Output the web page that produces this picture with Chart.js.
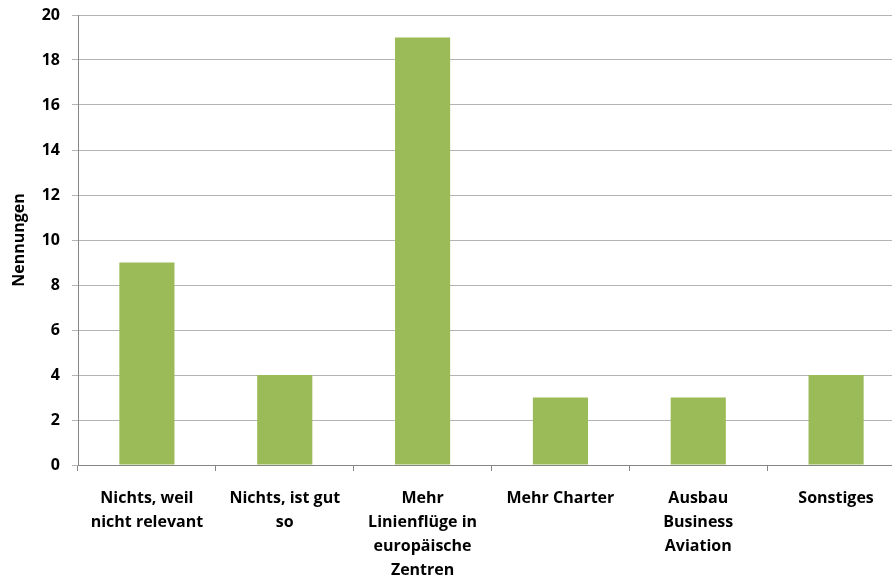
<!DOCTYPE html>
<html>
<head>
<meta charset="utf-8">
<script src="https://cdn.jsdelivr.net/npm/chart.js@4/dist/chart.umd.min.js"></script>
<style>
	html, body { margin: 0; padding: 0; background: #fff; overflow: hidden; }
	#wrap { width: 910px; height: 582px; }
</style>
</head>
<body>
<div id="wrap"><canvas id="myChart" width="910" height="582"></canvas></div>
<script>
// data
const categories = [
	['Nichts, weil', 'nicht relevant'],
	['Nichts, ist gut', 'so'],
	['Mehr', 'Linienflüge in', 'europäische', 'Zentren'],
	'Mehr Charter',
	['Ausbau', 'Business', 'Aviation'],
	'Sonstiges'
];
const nennungen = [9, 4, 19, 3, 3, 4];
const yTicks = [0, 2, 4, 6, 8, 10, 12, 14, 16, 18, 20];

const fontFamily = '"Open Sans", Lato, sans-serif';

var ctx = document.getElementById('myChart').getContext('2d');
var myChart = new Chart(ctx, {
	type: 'bar',
	data: {
		labels: categories,
		datasets: [{
			label: 'Nennungen',
			data: nennungen,
			backgroundColor: '#9BBB59',
			borderWidth: 0,
			barPercentage: 0.4,
			categoryPercentage: 1
		}]
	},
	options: {
		responsive: false,
		animation: false,
		layout: { padding: { top: 15, right: 5, left: 0, bottom: 0 } },
		plugins: {
			legend: { display: false },
			tooltip: { enabled: false }
		},
		scales: {
			x: {
				grid: {
					offset: true,
					drawOnChartArea: false,
					tickLength: 6,
					tickColor: '#868686'
				},
				border: { color: '#868686' },
				ticks: {
					color: '#000',
					maxRotation: 0,
					autoSkip: false,
					padding: 15,
					font: { family: fontFamily, size: 16, weight: 'bold', lineHeight: 1.5 }
				},
				afterFit: function(scale) {
					scale.height = 117;
					scale.paddingLeft = 0;
					scale.paddingRight = 0;
				}
			},
			y: {
				min: 0,
				max: 20,
				afterBuildTicks: function(scale) {
					scale.ticks = yTicks.map(v => ({ value: v }));
				},
				grid: {
					color: '#b4b4b4',
					tickLength: 6,
					tickColor: '#b4b4b4'
				},
				border: { color: '#868686' },
				ticks: {
					color: '#000',
					padding: 12,
					font: { family: fontFamily, size: 16, weight: 'bold' }
				},
				title: {
					display: true,
					text: 'Nennungen',
					color: '#000',
					padding: { top: 10, bottom: 0 },
					font: { family: fontFamily, size: 16, weight: 'bold' }
				},
				afterFit: function(scale) {
					scale.width = 78;
					scale.paddingTop = 0;
					scale.paddingBottom = 0;
				}
			}
		}
	}
});
</script>
</body>
</html>
